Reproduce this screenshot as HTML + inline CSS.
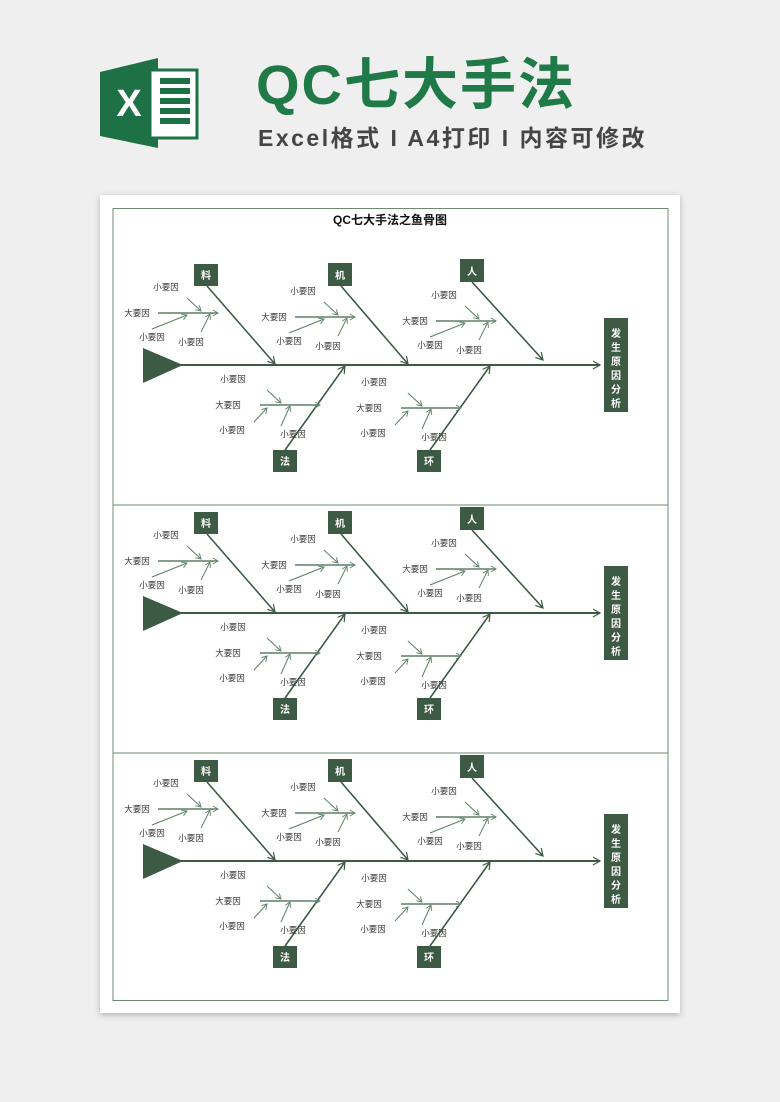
<!DOCTYPE html>
<html><head><meta charset="utf-8"><style>
html,body{margin:0;padding:0;background:#efefef;width:780px;height:1102px;overflow:hidden;}
body{position:relative;font-family:"Liberation Sans","Noto Sans CJK SC",sans-serif;}
.t1{position:absolute;left:256px;top:50px;font-size:56px;font-weight:bold;color:#1f7a48;letter-spacing:2px;font-family:"Liberation Sans","Noto Sans CJK SC",sans-serif;line-height:70px;}
.t2{position:absolute;left:258px;top:122px;font-size:23px;font-weight:bold;color:#454545;letter-spacing:2.5px;line-height:32px;}
.card{position:absolute;left:100px;top:195px;width:580px;height:818px;background:#fff;box-shadow:0 2px 6px rgba(0,0,0,.25);}
svg{position:absolute;left:0;top:0;}
</style></head><body>
<svg width="780" height="1102" style="z-index:0">
 <polygon points="100,72 158,58 158,148 100,136" fill="#1e7145"/>
 <rect x="150" y="70" width="47" height="68" fill="#fff" stroke="#1e7145" stroke-width="3"/>
 <g fill="#1e7145"><rect x="160" y="78" width="30" height="6"/><rect x="160" y="88" width="30" height="6"/><rect x="160" y="98" width="30" height="6"/><rect x="160" y="108" width="30" height="6"/><rect x="160" y="118" width="30" height="6"/></g>
 <text x="129" y="116" font-size="38" font-weight="bold" fill="#fff" text-anchor="middle" font-family="Liberation Sans,sans-serif">X</text>
</svg>
<div class="t1">QC七大手法</div>
<div class="t2">Excel格式 I A4打印 I 内容可修改</div>
<div class="card"></div>
<svg width="780" height="1102" style="z-index:2" font-family="Liberation Sans,Noto Sans CJK SC,sans-serif">
<defs>
<marker id="a" markerWidth="10" markerHeight="10" refX="8" refY="5" orient="auto" markerUnits="userSpaceOnUse"><path d="M1,1 L8,5 L1,9" fill="none" stroke="#3d5a45" stroke-width="1.2"/></marker>
<marker id="s" markerWidth="8" markerHeight="8" refX="6" refY="4" orient="auto" markerUnits="userSpaceOnUse"><path d="M1,1 L6,4 L1,7" fill="none" stroke="#6b8a72" stroke-width="1"/></marker>
</defs>
<rect x="113" y="208.5" width="555" height="792" fill="none" stroke="#6f8a74" stroke-width="1"/>
<line x1="113" y1="505" x2="668" y2="505" stroke="#6f8a74"/>
<line x1="113" y1="753" x2="668" y2="753" stroke="#6f8a74"/>
<text x="390" y="224" font-size="12" font-weight="bold" text-anchor="middle" fill="#111">QC七大手法之鱼骨图</text>

<g>
<polygon points="143,348 183,365 143,383" fill="#3d5a45"/>
<line x1="180" y1="365" x2="600" y2="365" stroke="#3d5a45" stroke-width="2" marker-end="url(#a)"/>
<rect x="604" y="318" width="24" height="94" fill="#3d5a45"/>
<g fill="#fff" font-size="10" font-weight="bold" text-anchor="middle"><text x="616" y="337">发</text><text x="616" y="351">生</text><text x="616" y="365">原</text><text x="616" y="379">因</text><text x="616" y="393">分</text><text x="616" y="407">析</text></g>
<g stroke="#3d5a45" stroke-width="1.6" fill="none">
<line x1="207" y1="286" x2="275" y2="364" marker-end="url(#a)"/>
<line x1="341" y1="286" x2="408" y2="364" marker-end="url(#a)"/>
<line x1="472" y1="282" x2="543" y2="360" marker-end="url(#a)"/>
<line x1="285" y1="450" x2="345" y2="366" marker-end="url(#a)"/>
<line x1="430" y1="450" x2="490" y2="366" marker-end="url(#a)"/>
</g>
<g fill="#3d5a45"><rect x="194" y="264" width="24" height="22"/><rect x="328" y="263" width="24" height="23"/><rect x="460" y="259" width="24" height="23"/><rect x="273" y="450" width="24" height="22"/><rect x="417" y="450" width="24" height="22"/></g>
<g fill="#fff" font-size="10" font-weight="bold" text-anchor="middle"><text x="206" y="279">料</text><text x="340" y="279">机</text><text x="472" y="275">人</text><text x="285" y="465">法</text><text x="429" y="465">环</text></g>
<g font-size="8.5" fill="#333" text-anchor="middle">
 <g transform="translate(218,313)"><text x="-52" y="-23">小要因</text><text x="-81" y="3">大要因</text><text x="-66" y="27">小要因</text><text x="-27" y="32">小要因</text>
  <g stroke="#5f7f66" stroke-width="1" fill="none"><line x1="-31" y1="-15" x2="-17" y2="-2" marker-end="url(#s)"/><line x1="-60" y1="0" x2="0" y2="0" stroke-width="1.4" marker-end="url(#s)"/><line x1="-66" y1="16" x2="-31" y2="2" marker-end="url(#s)"/><line x1="-17" y1="19" x2="-8" y2="1" marker-end="url(#s)"/></g></g>
 <g transform="translate(355,317)"><text x="-52" y="-23">小要因</text><text x="-81" y="3">大要因</text><text x="-66" y="27">小要因</text><text x="-27" y="32">小要因</text>
  <g stroke="#5f7f66" stroke-width="1" fill="none"><line x1="-31" y1="-15" x2="-17" y2="-2" marker-end="url(#s)"/><line x1="-60" y1="0" x2="0" y2="0" stroke-width="1.4" marker-end="url(#s)"/><line x1="-66" y1="16" x2="-31" y2="2" marker-end="url(#s)"/><line x1="-17" y1="19" x2="-8" y2="1" marker-end="url(#s)"/></g></g>
 <g transform="translate(496,321)"><text x="-52" y="-23">小要因</text><text x="-81" y="3">大要因</text><text x="-66" y="27">小要因</text><text x="-27" y="32">小要因</text>
  <g stroke="#5f7f66" stroke-width="1" fill="none"><line x1="-31" y1="-15" x2="-17" y2="-2" marker-end="url(#s)"/><line x1="-60" y1="0" x2="0" y2="0" stroke-width="1.4" marker-end="url(#s)"/><line x1="-66" y1="16" x2="-31" y2="2" marker-end="url(#s)"/><line x1="-17" y1="19" x2="-8" y2="1" marker-end="url(#s)"/></g></g>
 <g transform="translate(320,405)"><text x="-87" y="-23">小要因</text><text x="-92" y="3">大要因</text><text x="-88" y="28">小要因</text><text x="-27" y="32">小要因</text>
  <g stroke="#5f7f66" stroke-width="1" fill="none"><line x1="-53" y1="-15" x2="-39" y2="-2" marker-end="url(#s)"/><line x1="-60" y1="0" x2="0" y2="0" stroke-width="1.4" marker-end="url(#s)"/><line x1="-66" y1="17" x2="-53" y2="3" marker-end="url(#s)"/><line x1="-39" y1="21" x2="-30" y2="1" marker-end="url(#s)"/></g></g>
 <g transform="translate(461,408)"><text x="-87" y="-23">小要因</text><text x="-92" y="3">大要因</text><text x="-88" y="28">小要因</text><text x="-27" y="32">小要因</text>
  <g stroke="#5f7f66" stroke-width="1" fill="none"><line x1="-53" y1="-15" x2="-39" y2="-2" marker-end="url(#s)"/><line x1="-60" y1="0" x2="0" y2="0" stroke-width="1.4" marker-end="url(#s)"/><line x1="-66" y1="17" x2="-53" y2="3" marker-end="url(#s)"/><line x1="-39" y1="21" x2="-30" y2="1" marker-end="url(#s)"/></g></g>
</g>
</g>

<g transform="translate(0,248)">
<polygon points="143,348 183,365 143,383" fill="#3d5a45"/>
<line x1="180" y1="365" x2="600" y2="365" stroke="#3d5a45" stroke-width="2" marker-end="url(#a)"/>
<rect x="604" y="318" width="24" height="94" fill="#3d5a45"/>
<g fill="#fff" font-size="10" font-weight="bold" text-anchor="middle"><text x="616" y="337">发</text><text x="616" y="351">生</text><text x="616" y="365">原</text><text x="616" y="379">因</text><text x="616" y="393">分</text><text x="616" y="407">析</text></g>
<g stroke="#3d5a45" stroke-width="1.6" fill="none">
<line x1="207" y1="286" x2="275" y2="364" marker-end="url(#a)"/>
<line x1="341" y1="286" x2="408" y2="364" marker-end="url(#a)"/>
<line x1="472" y1="282" x2="543" y2="360" marker-end="url(#a)"/>
<line x1="285" y1="450" x2="345" y2="366" marker-end="url(#a)"/>
<line x1="430" y1="450" x2="490" y2="366" marker-end="url(#a)"/>
</g>
<g fill="#3d5a45"><rect x="194" y="264" width="24" height="22"/><rect x="328" y="263" width="24" height="23"/><rect x="460" y="259" width="24" height="23"/><rect x="273" y="450" width="24" height="22"/><rect x="417" y="450" width="24" height="22"/></g>
<g fill="#fff" font-size="10" font-weight="bold" text-anchor="middle"><text x="206" y="279">料</text><text x="340" y="279">机</text><text x="472" y="275">人</text><text x="285" y="465">法</text><text x="429" y="465">环</text></g>
<g font-size="8.5" fill="#333" text-anchor="middle">
 <g transform="translate(218,313)"><text x="-52" y="-23">小要因</text><text x="-81" y="3">大要因</text><text x="-66" y="27">小要因</text><text x="-27" y="32">小要因</text>
  <g stroke="#5f7f66" stroke-width="1" fill="none"><line x1="-31" y1="-15" x2="-17" y2="-2" marker-end="url(#s)"/><line x1="-60" y1="0" x2="0" y2="0" stroke-width="1.4" marker-end="url(#s)"/><line x1="-66" y1="16" x2="-31" y2="2" marker-end="url(#s)"/><line x1="-17" y1="19" x2="-8" y2="1" marker-end="url(#s)"/></g></g>
 <g transform="translate(355,317)"><text x="-52" y="-23">小要因</text><text x="-81" y="3">大要因</text><text x="-66" y="27">小要因</text><text x="-27" y="32">小要因</text>
  <g stroke="#5f7f66" stroke-width="1" fill="none"><line x1="-31" y1="-15" x2="-17" y2="-2" marker-end="url(#s)"/><line x1="-60" y1="0" x2="0" y2="0" stroke-width="1.4" marker-end="url(#s)"/><line x1="-66" y1="16" x2="-31" y2="2" marker-end="url(#s)"/><line x1="-17" y1="19" x2="-8" y2="1" marker-end="url(#s)"/></g></g>
 <g transform="translate(496,321)"><text x="-52" y="-23">小要因</text><text x="-81" y="3">大要因</text><text x="-66" y="27">小要因</text><text x="-27" y="32">小要因</text>
  <g stroke="#5f7f66" stroke-width="1" fill="none"><line x1="-31" y1="-15" x2="-17" y2="-2" marker-end="url(#s)"/><line x1="-60" y1="0" x2="0" y2="0" stroke-width="1.4" marker-end="url(#s)"/><line x1="-66" y1="16" x2="-31" y2="2" marker-end="url(#s)"/><line x1="-17" y1="19" x2="-8" y2="1" marker-end="url(#s)"/></g></g>
 <g transform="translate(320,405)"><text x="-87" y="-23">小要因</text><text x="-92" y="3">大要因</text><text x="-88" y="28">小要因</text><text x="-27" y="32">小要因</text>
  <g stroke="#5f7f66" stroke-width="1" fill="none"><line x1="-53" y1="-15" x2="-39" y2="-2" marker-end="url(#s)"/><line x1="-60" y1="0" x2="0" y2="0" stroke-width="1.4" marker-end="url(#s)"/><line x1="-66" y1="17" x2="-53" y2="3" marker-end="url(#s)"/><line x1="-39" y1="21" x2="-30" y2="1" marker-end="url(#s)"/></g></g>
 <g transform="translate(461,408)"><text x="-87" y="-23">小要因</text><text x="-92" y="3">大要因</text><text x="-88" y="28">小要因</text><text x="-27" y="32">小要因</text>
  <g stroke="#5f7f66" stroke-width="1" fill="none"><line x1="-53" y1="-15" x2="-39" y2="-2" marker-end="url(#s)"/><line x1="-60" y1="0" x2="0" y2="0" stroke-width="1.4" marker-end="url(#s)"/><line x1="-66" y1="17" x2="-53" y2="3" marker-end="url(#s)"/><line x1="-39" y1="21" x2="-30" y2="1" marker-end="url(#s)"/></g></g>
</g>
</g>

<g transform="translate(0,496)">
<polygon points="143,348 183,365 143,383" fill="#3d5a45"/>
<line x1="180" y1="365" x2="600" y2="365" stroke="#3d5a45" stroke-width="2" marker-end="url(#a)"/>
<rect x="604" y="318" width="24" height="94" fill="#3d5a45"/>
<g fill="#fff" font-size="10" font-weight="bold" text-anchor="middle"><text x="616" y="337">发</text><text x="616" y="351">生</text><text x="616" y="365">原</text><text x="616" y="379">因</text><text x="616" y="393">分</text><text x="616" y="407">析</text></g>
<g stroke="#3d5a45" stroke-width="1.6" fill="none">
<line x1="207" y1="286" x2="275" y2="364" marker-end="url(#a)"/>
<line x1="341" y1="286" x2="408" y2="364" marker-end="url(#a)"/>
<line x1="472" y1="282" x2="543" y2="360" marker-end="url(#a)"/>
<line x1="285" y1="450" x2="345" y2="366" marker-end="url(#a)"/>
<line x1="430" y1="450" x2="490" y2="366" marker-end="url(#a)"/>
</g>
<g fill="#3d5a45"><rect x="194" y="264" width="24" height="22"/><rect x="328" y="263" width="24" height="23"/><rect x="460" y="259" width="24" height="23"/><rect x="273" y="450" width="24" height="22"/><rect x="417" y="450" width="24" height="22"/></g>
<g fill="#fff" font-size="10" font-weight="bold" text-anchor="middle"><text x="206" y="279">料</text><text x="340" y="279">机</text><text x="472" y="275">人</text><text x="285" y="465">法</text><text x="429" y="465">环</text></g>
<g font-size="8.5" fill="#333" text-anchor="middle">
 <g transform="translate(218,313)"><text x="-52" y="-23">小要因</text><text x="-81" y="3">大要因</text><text x="-66" y="27">小要因</text><text x="-27" y="32">小要因</text>
  <g stroke="#5f7f66" stroke-width="1" fill="none"><line x1="-31" y1="-15" x2="-17" y2="-2" marker-end="url(#s)"/><line x1="-60" y1="0" x2="0" y2="0" stroke-width="1.4" marker-end="url(#s)"/><line x1="-66" y1="16" x2="-31" y2="2" marker-end="url(#s)"/><line x1="-17" y1="19" x2="-8" y2="1" marker-end="url(#s)"/></g></g>
 <g transform="translate(355,317)"><text x="-52" y="-23">小要因</text><text x="-81" y="3">大要因</text><text x="-66" y="27">小要因</text><text x="-27" y="32">小要因</text>
  <g stroke="#5f7f66" stroke-width="1" fill="none"><line x1="-31" y1="-15" x2="-17" y2="-2" marker-end="url(#s)"/><line x1="-60" y1="0" x2="0" y2="0" stroke-width="1.4" marker-end="url(#s)"/><line x1="-66" y1="16" x2="-31" y2="2" marker-end="url(#s)"/><line x1="-17" y1="19" x2="-8" y2="1" marker-end="url(#s)"/></g></g>
 <g transform="translate(496,321)"><text x="-52" y="-23">小要因</text><text x="-81" y="3">大要因</text><text x="-66" y="27">小要因</text><text x="-27" y="32">小要因</text>
  <g stroke="#5f7f66" stroke-width="1" fill="none"><line x1="-31" y1="-15" x2="-17" y2="-2" marker-end="url(#s)"/><line x1="-60" y1="0" x2="0" y2="0" stroke-width="1.4" marker-end="url(#s)"/><line x1="-66" y1="16" x2="-31" y2="2" marker-end="url(#s)"/><line x1="-17" y1="19" x2="-8" y2="1" marker-end="url(#s)"/></g></g>
 <g transform="translate(320,405)"><text x="-87" y="-23">小要因</text><text x="-92" y="3">大要因</text><text x="-88" y="28">小要因</text><text x="-27" y="32">小要因</text>
  <g stroke="#5f7f66" stroke-width="1" fill="none"><line x1="-53" y1="-15" x2="-39" y2="-2" marker-end="url(#s)"/><line x1="-60" y1="0" x2="0" y2="0" stroke-width="1.4" marker-end="url(#s)"/><line x1="-66" y1="17" x2="-53" y2="3" marker-end="url(#s)"/><line x1="-39" y1="21" x2="-30" y2="1" marker-end="url(#s)"/></g></g>
 <g transform="translate(461,408)"><text x="-87" y="-23">小要因</text><text x="-92" y="3">大要因</text><text x="-88" y="28">小要因</text><text x="-27" y="32">小要因</text>
  <g stroke="#5f7f66" stroke-width="1" fill="none"><line x1="-53" y1="-15" x2="-39" y2="-2" marker-end="url(#s)"/><line x1="-60" y1="0" x2="0" y2="0" stroke-width="1.4" marker-end="url(#s)"/><line x1="-66" y1="17" x2="-53" y2="3" marker-end="url(#s)"/><line x1="-39" y1="21" x2="-30" y2="1" marker-end="url(#s)"/></g></g>
</g>
</g>
</svg>
</body></html>
